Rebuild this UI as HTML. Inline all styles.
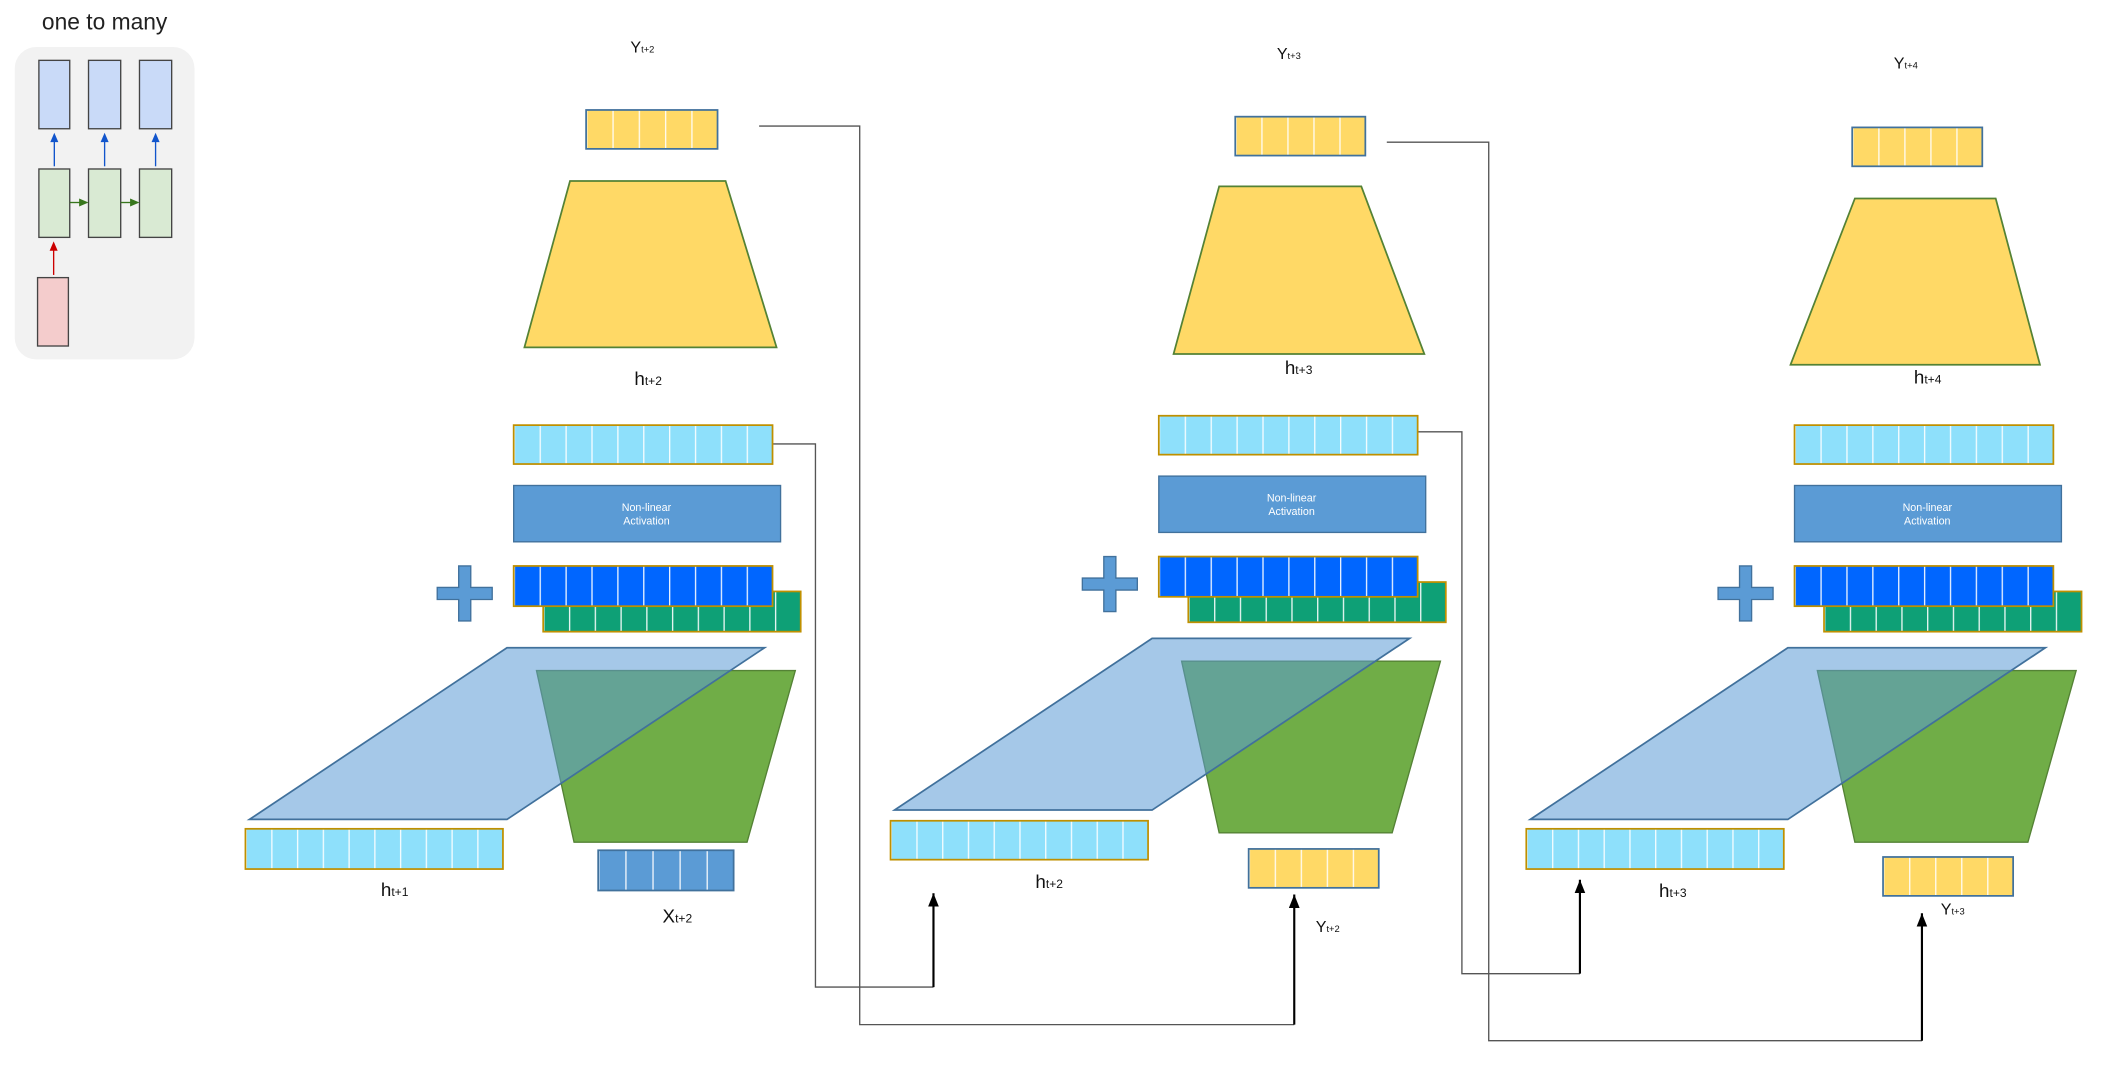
<!DOCTYPE html>
<html><head><meta charset="utf-8"><style>
html,body{margin:0;padding:0;background:#fff;}
svg{display:block;}
text{font-family:"Liberation Sans",sans-serif;}
</style></head><body>
<svg width="2103" height="1067" viewBox="0 0 1568 795.6" preserveAspectRatio="none" xmlns="http://www.w3.org/2000/svg">
<defs>
<pattern id="c10" patternUnits="objectBoundingBox" width="0.1" height="1"><rect x="0" y="0" width="1" height="200" fill="#fff" opacity="0.9"/></pattern>
<pattern id="c5" patternUnits="objectBoundingBox" width="0.2" height="1"><rect x="0" y="0" width="1" height="200" fill="#fff" opacity="0.9"/></pattern>
<marker id="ar" markerWidth="10" markerHeight="8" refX="10" refY="4" orient="auto" markerUnits="userSpaceOnUse"><path d="M0,0 L10,4 L0,8 Z" fill="#000"/></marker>
</defs>

<text x="78" y="22" font-size="17" text-anchor="middle" fill="#222">one to many</text>
<rect x="11" y="35" width="134" height="233" rx="16" fill="#f2f2f2"/>
<g stroke="#444" stroke-width="1">
<rect x="29" y="45" width="23" height="51" fill="#c9daf8"/>
<rect x="66" y="45" width="24" height="51" fill="#c9daf8"/>
<rect x="104" y="45" width="24" height="51" fill="#c9daf8"/>
<rect x="29" y="126" width="23" height="51" fill="#d9ead3"/>
<rect x="66" y="126" width="24" height="51" fill="#d9ead3"/>
<rect x="104" y="126" width="24" height="51" fill="#d9ead3"/>
<rect x="28" y="207" width="23" height="51" fill="#f4cccc"/>
</g>
<g stroke-width="1">
<line x1="40.5" y1="124" x2="40.5" y2="104" stroke="#1155cc"/><path d="M37.5,106 L40.5,99 L43.5,106Z" fill="#1155cc"/>
<line x1="78" y1="124" x2="78" y2="104" stroke="#1155cc"/><path d="M75,106 L78,99 L81,106Z" fill="#1155cc"/>
<line x1="116" y1="124" x2="116" y2="104" stroke="#1155cc"/><path d="M113,106 L116,99 L119,106Z" fill="#1155cc"/>
<line x1="40" y1="205" x2="40" y2="185" stroke="#cc0000"/><path d="M37,187 L40,180 L43,187Z" fill="#cc0000"/>
<line x1="52" y1="151" x2="60" y2="151" stroke="#38761d"/><path d="M59,148 L66,151 L59,154Z" fill="#38761d"/>
<line x1="90" y1="151" x2="98" y2="151" stroke="#38761d"/><path d="M97,148 L104,151 L97,154Z" fill="#38761d"/>
</g>

<g fill="none" stroke="#555" stroke-width="1">
<polyline points="566,94 641,94 641,764 965,764"/>
<polyline points="576,331 608,331 608,736 696,736"/>
<polyline points="1034,106 1110,106 1110,776 1433,776"/>
<polyline points="1056,322 1090,322 1090,726 1178,726"/>
</g>
<g stroke="#000" stroke-width="1.6" marker-end="url(#ar)">
<line x1="965" y1="764" x2="965" y2="667"/>
<line x1="696" y1="736" x2="696" y2="666"/>
<line x1="1433" y1="776" x2="1433" y2="681"/>
<line x1="1178" y1="726" x2="1178" y2="656"/>
</g>

<g>
<rect x="437" y="82" width="98" height="29" fill="#ffd966"/><rect x="437" y="82" width="98" height="29" fill="url(#c5)"/><rect x="437" y="82" width="98" height="29" fill="none" stroke="#41719c" stroke-width="1.3"/>
<polygon points="425,135 541,135 579,259 391,259" fill="#ffd966" stroke="#548235" stroke-width="1.3"/>
<rect x="383" y="317" width="193" height="29" fill="#8ee0fb"/><rect x="383" y="317" width="193" height="29" fill="url(#c10)"/><rect x="383" y="317" width="193" height="29" fill="none" stroke="#bf9000" stroke-width="1.3"/>
<rect x="383" y="362" width="199" height="42" fill="#5b9bd5" stroke="#41719c" stroke-width="1"/>
<text x="482" y="381" font-size="8" fill="#fff" text-anchor="middle">Non-linear</text>
<text x="482" y="391" font-size="8" fill="#fff" text-anchor="middle">Activation</text>
<path d="M342,422 h9 v16 h16 v9 h-16 v16 h-9 v-16 h-16 v-9 h16 z" fill="#5b9bd5" stroke="#41719c" stroke-width="1"/>
<rect x="405" y="441" width="192" height="30" fill="#0ea076"/><rect x="405" y="441" width="192" height="30" fill="url(#c10)"/><rect x="405" y="441" width="192" height="30" fill="none" stroke="#bf9000" stroke-width="1.3"/>
<rect x="383" y="422" width="193" height="30" fill="#0066ff"/><rect x="383" y="422" width="193" height="30" fill="url(#c10)"/><rect x="383" y="422" width="193" height="30" fill="none" stroke="#bf9000" stroke-width="1.3"/>
<polygon points="400,500 593,500 557,628 428,628" fill="#70ad47" stroke="#548235" stroke-width="1"/>
<polygon points="378,483 570,483 378,611 186,611" fill="#5b9bd5" fill-opacity="0.55" stroke="#41719c" stroke-width="1.3"/>
</g>
<rect x="183" y="618" width="192" height="30" fill="#8ee0fb"/><rect x="183" y="618" width="192" height="30" fill="url(#c10)"/><rect x="183" y="618" width="192" height="30" fill="none" stroke="#bf9000" stroke-width="1.3"/>
<rect x="446" y="634" width="101" height="30" fill="#5b9bd5"/><rect x="446" y="634" width="101" height="30" fill="url(#c5)"/><rect x="446" y="634" width="101" height="30" fill="none" stroke="#41719c" stroke-width="1.3"/>

<g transform="translate(484,5)"><rect x="437" y="82" width="97" height="29" fill="#ffd966"/><rect x="437" y="82" width="97" height="29" fill="url(#c5)"/><rect x="437" y="82" width="97" height="29" fill="none" stroke="#41719c" stroke-width="1.3"/>
<polygon points="425,134 531,134 578,259 391,259" fill="#ffd966" stroke="#548235" stroke-width="1.3"/></g>
<g transform="translate(481,-7)">
<rect x="383" y="317" width="193" height="29" fill="#8ee0fb"/><rect x="383" y="317" width="193" height="29" fill="url(#c10)"/><rect x="383" y="317" width="193" height="29" fill="none" stroke="#bf9000" stroke-width="1.3"/>
<rect x="383" y="362" width="199" height="42" fill="#5b9bd5" stroke="#41719c" stroke-width="1"/>
<text x="482" y="381" font-size="8" fill="#fff" text-anchor="middle">Non-linear</text>
<text x="482" y="391" font-size="8" fill="#fff" text-anchor="middle">Activation</text>
<path d="M342,422 h9 v16 h16 v9 h-16 v16 h-9 v-16 h-16 v-9 h16 z" fill="#5b9bd5" stroke="#41719c" stroke-width="1"/>
<rect x="405" y="441" width="192" height="30" fill="#0ea076"/><rect x="405" y="441" width="192" height="30" fill="url(#c10)"/><rect x="405" y="441" width="192" height="30" fill="none" stroke="#bf9000" stroke-width="1.3"/>
<rect x="383" y="422" width="193" height="30" fill="#0066ff"/><rect x="383" y="422" width="193" height="30" fill="url(#c10)"/><rect x="383" y="422" width="193" height="30" fill="none" stroke="#bf9000" stroke-width="1.3"/>
<polygon points="400,500 593,500 557,628 428,628" fill="#70ad47" stroke="#548235" stroke-width="1"/>
<polygon points="378,483 570,483 378,611 186,611" fill="#5b9bd5" fill-opacity="0.55" stroke="#41719c" stroke-width="1.3"/>
</g>
<rect x="664" y="612" width="192" height="29" fill="#8ee0fb"/><rect x="664" y="612" width="192" height="29" fill="url(#c10)"/><rect x="664" y="612" width="192" height="29" fill="none" stroke="#bf9000" stroke-width="1.3"/>
<rect x="931" y="633" width="97" height="29" fill="#ffd966"/><rect x="931" y="633" width="97" height="29" fill="url(#c5)"/><rect x="931" y="633" width="97" height="29" fill="none" stroke="#41719c" stroke-width="1.3"/>

<g transform="translate(944,13)"><rect x="437" y="82" width="97" height="29" fill="#ffd966"/><rect x="437" y="82" width="97" height="29" fill="url(#c5)"/><rect x="437" y="82" width="97" height="29" fill="none" stroke="#41719c" stroke-width="1.3"/>
<polygon points="439,135 544,135 577,259 391,259" fill="#ffd966" stroke="#548235" stroke-width="1.3"/></g>
<g transform="translate(955,0)">
<rect x="383" y="317" width="193" height="29" fill="#8ee0fb"/><rect x="383" y="317" width="193" height="29" fill="url(#c10)"/><rect x="383" y="317" width="193" height="29" fill="none" stroke="#bf9000" stroke-width="1.3"/>
<rect x="383" y="362" width="199" height="42" fill="#5b9bd5" stroke="#41719c" stroke-width="1"/>
<text x="482" y="381" font-size="8" fill="#fff" text-anchor="middle">Non-linear</text>
<text x="482" y="391" font-size="8" fill="#fff" text-anchor="middle">Activation</text>
<path d="M342,422 h9 v16 h16 v9 h-16 v16 h-9 v-16 h-16 v-9 h16 z" fill="#5b9bd5" stroke="#41719c" stroke-width="1"/>
<rect x="405" y="441" width="192" height="30" fill="#0ea076"/><rect x="405" y="441" width="192" height="30" fill="url(#c10)"/><rect x="405" y="441" width="192" height="30" fill="none" stroke="#bf9000" stroke-width="1.3"/>
<rect x="383" y="422" width="193" height="30" fill="#0066ff"/><rect x="383" y="422" width="193" height="30" fill="url(#c10)"/><rect x="383" y="422" width="193" height="30" fill="none" stroke="#bf9000" stroke-width="1.3"/>
<polygon points="400,500 593,500 557,628 428,628" fill="#70ad47" stroke="#548235" stroke-width="1"/>
<polygon points="378,483 570,483 378,611 186,611" fill="#5b9bd5" fill-opacity="0.55" stroke="#41719c" stroke-width="1.3"/>
</g>
<rect x="1138" y="618" width="192" height="30" fill="#8ee0fb"/><rect x="1138" y="618" width="192" height="30" fill="url(#c10)"/><rect x="1138" y="618" width="192" height="30" fill="none" stroke="#bf9000" stroke-width="1.3"/>
<rect x="1404" y="639" width="97" height="29" fill="#ffd966"/><rect x="1404" y="639" width="97" height="29" fill="url(#c5)"/><rect x="1404" y="639" width="97" height="29" fill="none" stroke="#41719c" stroke-width="1.3"/>

<g fill="#111">
<text x="470" y="39" font-size="12">Y<tspan font-size="7">t+2</tspan></text>
<text x="952" y="44" font-size="12">Y<tspan font-size="7">t+3</tspan></text>
<text x="1412" y="51" font-size="12">Y<tspan font-size="7">t+4</tspan></text>
<text x="473" y="287" font-size="14">h<tspan font-size="9">t+2</tspan></text>
<text x="958" y="279" font-size="14">h<tspan font-size="9">t+3</tspan></text>
<text x="1427" y="286" font-size="14">h<tspan font-size="9">t+4</tspan></text>
<text x="284" y="668" font-size="14">h<tspan font-size="9">t+1</tspan></text>
<text x="494" y="688" font-size="14">X<tspan font-size="9">t+2</tspan></text>
<text x="772" y="662" font-size="14">h<tspan font-size="9">t+2</tspan></text>
<text x="981" y="695" font-size="12">Y<tspan font-size="7">t+2</tspan></text>
<text x="1237" y="669" font-size="14">h<tspan font-size="9">t+3</tspan></text>
<text x="1447" y="682" font-size="12">Y<tspan font-size="7">t+3</tspan></text>
</g>
</svg>
</body></html>
